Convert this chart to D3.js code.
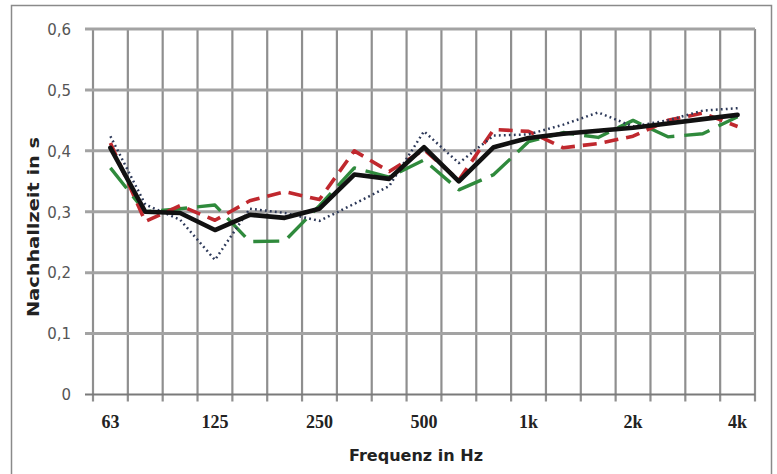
<!DOCTYPE html>
<html>
<head>
<meta charset="utf-8">
<script src="https://cdn.jsdelivr.net/npm/d3@7/dist/d3.min.js"></script>
<style>
  html, body { margin: 0; padding: 0; background: #fff; }
  svg { display: block; }
</style>
</head>
<body>
<svg id="chart" width="777" height="474"></svg>
<script>
// Third-octave bands and reverberation times (s)
const bands = ["63","80","100","125","160","200","250","315","400","500","630","800","1k","1.25k","1.6k","2k","2.5k","3.15k","4k"];
const bandLabels = ["63","125","250","500","1k","2k","4k"];
const yTicks = [0, 0.1, 0.2, 0.3, 0.4, 0.5, 0.6];

const seriesMean   = [0.405, 0.300, 0.298, 0.270, 0.295, 0.290, 0.305, 0.361, 0.354, 0.406, 0.350, 0.406, 0.421, 0.428, 0.433, 0.438, 0.445, 0.452, 0.459];
const seriesDotted = [0.424, 0.312, 0.287, 0.221, 0.305, 0.298, 0.285, 0.313, 0.342, 0.432, 0.380, 0.425, 0.427, 0.443, 0.463, 0.440, 0.450, 0.466, 0.470];
const seriesRed    = [0.413, 0.284, 0.310, 0.286, 0.318, 0.333, 0.320, 0.400, 0.366, 0.402, 0.352, 0.435, 0.432, 0.405, 0.412, 0.424, 0.450, 0.462, 0.440];
const seriesGreen  = [0.372, 0.300, 0.305, 0.311, 0.251, 0.252, 0.310, 0.372, 0.357, 0.385, 0.336, 0.361, 0.415, 0.430, 0.422, 0.450, 0.423, 0.428, 0.456];

const svg = d3.select("#chart");
const plotLeft = 93, plotRight = 755, plotTop = 29, plotBottom = 394.5;

// outer frame
svg.append("rect")
  .attr("x", 11.5).attr("y", 5.5).attr("width", 760).attr("height", 480)
  .attr("fill", "none").attr("stroke", "#8a8a8a").attr("stroke-width", 1.5);

const x = d3.scaleBand().domain(bands).range([plotLeft, plotRight]).padding(0);
const y = d3.scaleLinear().domain([0, 0.6]).range([plotBottom, plotTop]);
const cx = b => x(b) + x.bandwidth() / 2;

// band boundaries for vertical grid
const bounds = bands.map(b => x(b)).concat([x.range()[1]]);

const grid = svg.append("g");
grid.selectAll("line.v").data(bounds).join("line")
  .attr("class", "v")
  .attr("x1", d => d).attr("x2", d => d)
  .attr("y1", y(0.6)).attr("y2", plotBottom + 7)
  .attr("stroke", "#8f8f8f").attr("stroke-width", 2.2);
grid.selectAll("line.h").data(yTicks).join("line")
  .attr("class", "h")
  .attr("x1", plotLeft - 8).attr("x2", plotRight)
  .attr("y1", d => y(d)).attr("y2", d => y(d))
  .attr("stroke", d => d === 0 ? "#7a7a7a" : "#a3a3a3")
  .attr("stroke-width", d => d === 0 ? 2.2 : 3);

// y axis labels
const yAxis = d3.axisLeft(y).tickValues(yTicks).tickSize(0).tickPadding(0)
  .tickFormat(d => d === 0 ? "0" : d3.format(".1f")(d).replace(".", ","));
const ya = svg.append("g").attr("transform", `translate(${plotLeft - 22},0)`).call(yAxis);
ya.select(".domain").remove();
ya.selectAll("text")
  .attr("font-family", "'DejaVu Sans', sans-serif")
  .attr("font-size", 15).attr("fill", "#555").attr("dy", "0.35em");

// x axis labels (every third band)
const xAxis = d3.axisBottom(x).tickValues(bandLabels).tickSize(0).tickPadding(0);
const xa = svg.append("g").attr("transform", `translate(0,${plotBottom})`).call(xAxis);
xa.select(".domain").remove();
xa.selectAll("text")
  .attr("font-family", "'Liberation Serif', serif")
  .attr("font-weight", "bold")
  .attr("font-size", 18).attr("fill", "#222")
  .attr("dy", null).attr("y", 33);

// axis titles
svg.append("text")
  .attr("x", 416).attr("y", 461)
  .attr("text-anchor", "middle")
  .attr("font-family", "'DejaVu Sans', sans-serif")
  .attr("font-weight", "bold").attr("font-size", 16).attr("fill", "#222")
  .attr("textLength", 134).attr("lengthAdjust", "spacingAndGlyphs")
  .text("Frequenz in Hz");
svg.append("text")
  .attr("transform", "translate(39,227) rotate(-90)")
  .attr("text-anchor", "middle")
  .attr("font-family", "'DejaVu Sans', sans-serif")
  .attr("font-weight", "bold").attr("font-size", 15).attr("fill", "#222")
  .attr("textLength", 180).attr("lengthAdjust", "spacingAndGlyphs")
  .text("Nachhallzeit in s");

// series lines
const line = d3.line().x((d, i) => cx(bands[i])).y(d => y(d));
const series = [
  { values: seriesGreen,  color: "#2f8a3c", width: 3.4, dash: "26,10", cap: "butt" },
  { values: seriesRed,    color: "#c0282e", width: 3.6, dash: "14,8",  cap: "butt" },
  { values: seriesDotted, color: "#2c3858", width: 2.5, dash: "1.8,3.2", cap: "butt" },
  { values: seriesMean,   color: "#111111", width: 4.6, dash: null,    cap: "round" }
];
svg.append("g").selectAll("path").data(series).join("path")
  .attr("d", d => line(d.values))
  .attr("fill", "none")
  .attr("stroke", d => d.color)
  .attr("stroke-width", d => d.width)
  .attr("stroke-dasharray", d => d.dash)
  .attr("stroke-linecap", d => d.cap)
  .attr("stroke-linejoin", "round");
</script>
</body>
</html>
